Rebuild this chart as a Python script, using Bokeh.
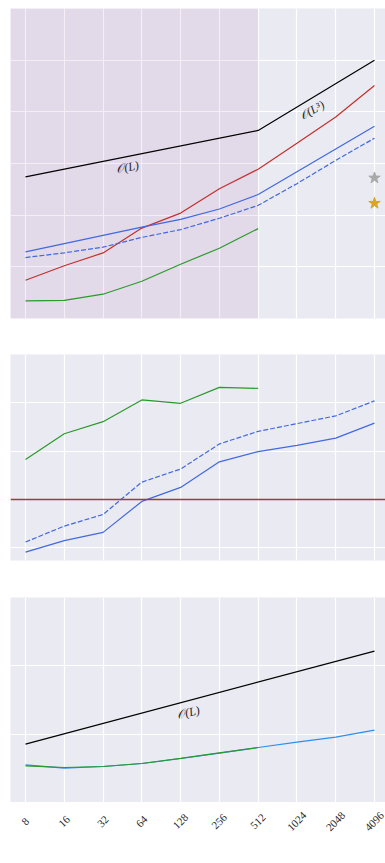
import math
from bokeh.plotting import figure
from bokeh.layouts import column
from bokeh.models import Range1d, FixedTicker, Grid, BoxAnnotation, Span
from bokeh.core.properties import value
from bokeh.embed import file_html
from bokeh.resources import INLINE

# ---------------- data ----------------
L = [8, 16, 32, 64, 128, 256, 512, 1024, 2048, 4096]
tick_labels = ["8", "16", "32", "64", "128", "256", "512", "1024", "2048", "4096"]

# panel 1 (values in grid units)
p1_ref_x = [8, 512, 4096]
p1_ref_y = [2.74, 3.64, 5.00]
p1_red = [0.74, 1.02, 1.27, 1.75, 2.04, 2.51, 2.89, 3.39, 3.90, 4.51]
p1_blue = [1.29, 1.45, 1.61, 1.77, 1.92, 2.12, 2.40, 2.84, 3.28, 3.72]
p1_blue_dash = [1.18, 1.27, 1.38, 1.57, 1.72, 1.94, 2.19, 2.61, 3.06, 3.49]
p1_green_x = [8, 16, 32, 64, 128, 256, 512]
p1_green = [0.34, 0.35, 0.47, 0.72, 1.05, 1.36, 1.74]
star_x = [4096]
star_gray = [2.72]
star_gold = [2.23]
shade_right = 512

# panel 2
p2_green_x = [8, 16, 32, 64, 128, 256, 512]
p2_green = [0.83, 1.36, 1.61, 2.06, 1.99, 2.32, 2.30]
p2_blue_dash = [-0.88, -0.55, -0.31, 0.36, 0.63, 1.15, 1.41, 1.57, 1.73, 2.04]
p2_blue = [-1.09, -0.85, -0.68, -0.04, 0.25, 0.78, 0.99, 1.12, 1.27, 1.58]
p2_hline = 0.0

# panel 3
p3_ref_x = [8, 4096]
p3_ref_y = [0.855, 2.216]
p3_blue = [0.552, 0.503, 0.527, 0.571, 0.644, 0.723, 0.805, 0.884, 0.958, 1.06]
p3_green_x = [8, 16, 32, 64, 128, 256, 512]
p3_green = [0.537, 0.512, 0.527, 0.571, 0.646, 0.725, 0.805]

BG = "#eaeaf2"
RED = "#c4302b"
BLUE = "#4169e1"
GREEN = "#2a9a2a"
LBLUE = "#2b8ff0"
XR = (2 ** 2.613, 2 ** 12.284)
SERIF = "Liberation Serif"


def make_fig(frame_h, yr, ygrid, top, bottom, bg=BG):
    p = figure(frame_width=375, frame_height=frame_h,
               x_axis_type="log", x_range=Range1d(*XR), y_range=Range1d(*yr),
               x_axis_location=None, y_axis_location=None,
               output_backend="svg", toolbar_location=None,
               min_border_left=10, min_border_right=0,
               min_border_top=top, min_border_bottom=bottom)
    p.background_fill_color = bg
    p.border_fill_color = "white"
    p.outline_line_color = None
    p.grid.visible = False
    if ygrid is not None:
        gx = Grid(dimension=0, ticker=FixedTicker(ticks=L), grid_line_color="white",
                  grid_line_width=1.2)
        gy = Grid(dimension=1, ticker=FixedTicker(ticks=ygrid), grid_line_color="white",
                  grid_line_width=1.2)
        p.add_layout(gx)
        p.add_layout(gy)
    return p


# ---- panel 1 ----
p1 = make_fig(310, (0, 6.0), [1, 2, 3, 4, 5], 8, 20)
p1.add_layout(BoxAnnotation(right=shade_right, fill_color="purple", fill_alpha=0.07,
                            line_color=None, level="underlay"))
p1.line(p1_ref_x, p1_ref_y, color="black", line_width=1.2)
p1.line(L, p1_red, color=RED, line_width=1.2)
p1.line(L, p1_blue, color=BLUE, line_width=1.2)
p1.line(L, p1_blue_dash, color=BLUE, line_width=1.2, line_dash="5 2")
p1.line(p1_green_x, p1_green, color=GREEN, line_width=1.2)
p1.scatter(star_x, star_gray, marker="star", size=12, color="#a9a9a9")
p1.scatter(star_x, star_gold, marker="star", size=12, color="#daa520")
p1.text(x=[49.5], y=[2.93], text=["𝒪(L)"], angle=math.radians(11),
        text_font=value(SERIF), text_font_style="italic", text_font_size="12px",
        text_align="center", text_baseline="middle", text_color="#262626")
p1.text(x=[1342], y=[4.03], text=["𝒪(L³)"], angle=math.radians(30),
        text_font=value(SERIF), text_font_style="italic", text_font_size="12px",
        text_align="center", text_baseline="middle", text_color="#262626")

# ---- panel 2 ----
p2 = make_fig(206, (-1.262, 3.0), [-1, 0, 1, 2], 16, 19)
p2.add_layout(Span(location=p2_hline, dimension="width", line_color="#b03434",
                   line_width=1.6))
p2.line(p2_green_x, p2_green, color=GREEN, line_width=1.2)
p2.line(L, p2_blue_dash, color=BLUE, line_width=1.2, line_dash="5 2")
p2.line(L, p2_blue, color=BLUE, line_width=1.2)

# ---- panel 3 ----
p3 = make_fig(205, (0, 3.0), [1, 2], 18, 0)
p3.line(p3_ref_x, p3_ref_y, color="black", line_width=1.2)
p3.line(L, p3_blue, color=LBLUE, line_width=1.2)
p3.line(p3_green_x, p3_green, color=GREEN, line_width=1.2)
p3.text(x=[147], y=[1.318], text=["𝒪(L)"], angle=math.radians(13),
        text_font=value(SERIF), text_font_style="italic", text_font_size="12px",
        text_align="center", text_baseline="middle", text_color="#262626")

# ---- tick-label strip under panel 3 ----
p4 = make_fig(48, (0, 48), None, 0, 0, bg="white")
p4.text(x=L, y=[29] * len(L), text=tick_labels, angle=math.pi / 4,
        text_font=value(SERIF), text_font_size="11px", text_align="center",
        text_baseline="middle", text_color="#262626")

layout = column(p1, p2, p3, p4)
open("out.html", "w").write(file_html(layout, INLINE))
